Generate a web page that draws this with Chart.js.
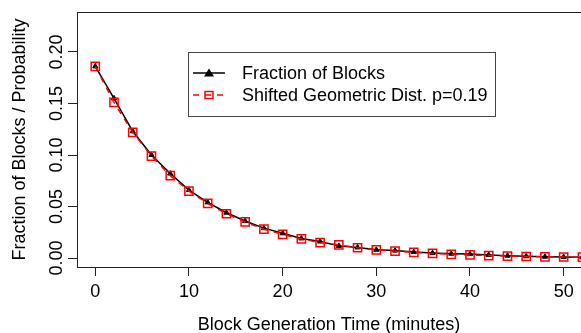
<!DOCTYPE html>
<html>
<head>
<meta charset="utf-8">
<script src="https://cdn.jsdelivr.net/npm/chart.js@4.4.1/dist/chart.umd.min.js"></script>
<style>
html,body{margin:0;padding:0;background:#fff;overflow:hidden}
#wrap{width:581px;height:333px;overflow:hidden}
canvas{display:block}
</style>
</head>
<body>
<div id="wrap"><canvas id="c" width="620" height="333"></canvas></div>
<script>
// block generation time (minutes)
const minutes = [0,2,4,6,8,10,12,14,16,18,20,22,24,26,28,30,32,34,36,38,40,42,44,46,48,50,52];
const fractionBlocks = [0.186,0.155,0.123,0.100,0.082,0.066,0.054,0.044,0.036,0.029,0.024,0.019,0.016,0.0118,0.0103,0.0080,0.0072,0.0058,0.0048,0.0042,0.0038,0.0030,0.0023,0.0017,0.0013,0.0010,0.0008];
const geometric = [0.186,0.151,0.122,0.099,0.080,0.065,0.053,0.043,0.035,0.028,0.023,0.0185,0.015,0.0128,0.0100,0.0080,0.0068,0.0055,0.0045,0.0036,0.0030,0.0024,0.0019,0.0015,0.0012,0.0010,0.0008];
const xTicks = [0,10,20,30,40,50];
const yTicks = [0,0.05,0.10,0.15,0.20];
const legendLabels = ['Fraction of Blocks','Shifted Geometric Dist. p=0.19'];

const FONT = "'Liberation Sans', Arial, Helvetica, sans-serif";
const FRAME = '#222';

const framePlugin = {
  id:'frame',
  afterDraw(chart){
    const {ctx, chartArea:a} = chart;
    ctx.save();
    ctx.strokeStyle = FRAME; ctx.lineWidth = 1;
    ctx.beginPath();
    ctx.moveTo(a.left, a.top + 0.5);
    ctx.lineTo(a.right, a.top + 0.5);
    ctx.stroke();
    ctx.restore();
  }
};

const legendPlugin = {
  id:'rlegend',
  afterDraw(chart){
    const ctx = chart.ctx;
    const bx = 188.5, by = 52.5, bw = 307, bh = 64;
    ctx.save();
    ctx.fillStyle = '#fff';
    ctx.fillRect(bx, by, bw, bh);
    ctx.strokeStyle = '#444'; ctx.lineWidth = 1;
    ctx.strokeRect(bx, by, bw, bh);
    const rows = [73, 95];
    const x0 = 193, x1 = 225, xm = 209;
    // black solid line + triangle
    ctx.strokeStyle = '#000'; ctx.lineWidth = 1.5;
    ctx.beginPath(); ctx.moveTo(x0, rows[0]); ctx.lineTo(x1, rows[0]); ctx.stroke();
    ctx.fillStyle = '#000';
    ctx.beginPath();
    ctx.moveTo(xm, rows[0]-4.5); ctx.lineTo(xm+5, rows[0]+3.5); ctx.lineTo(xm-5, rows[0]+3.5);
    ctx.closePath(); ctx.fill();
    // red dashed + open square
    ctx.strokeStyle = '#ff0000'; ctx.lineWidth = 1.5;
    ctx.setLineDash([6,6]);
    ctx.beginPath(); ctx.moveTo(x0, rows[1]); ctx.lineTo(x1, rows[1]); ctx.stroke();
    ctx.setLineDash([]);
    ctx.strokeRect(xm-4, rows[1]-3.5, 8, 7);
    ctx.fillStyle = '#000';
    ctx.font = '18px ' + FONT;
    ctx.textBaseline = 'middle';
    ctx.textAlign = 'left';
    legendLabels.forEach((t,i)=>ctx.fillText(t, 242, rows[i]+1));
    ctx.restore();
  }
};

new Chart(document.getElementById('c').getContext('2d'), {
  type:'line',
  data:{
    labels: minutes,
    datasets:[
      {
        label: legendLabels[0],
        data: minutes.map((m,i)=>({x:m, y:fractionBlocks[i]})),
        borderColor:'#000', borderWidth:1.5,
        pointStyle:'triangle', pointRadius:3, pointBackgroundColor:'#000', pointBorderColor:'#000', pointBorderWidth:1,
        tension:0, order:1, clip:false
      },
      {
        label: legendLabels[1],
        data: minutes.map((m,i)=>({x:m, y:geometric[i]})),
        borderColor:'#ff0000', borderWidth:1.5, borderDash:[6,6],
        pointStyle:'rect', pointRadius:5.8, pointBackgroundColor:'rgba(0,0,0,0)', pointBorderColor:'#ff0000', pointBorderWidth:1.5,
        tension:0, order:0, clip:false
      }
    ]
  },
  options:{
    responsive:false, animation:false, devicePixelRatio:1,
    layout:{padding:{top:12, right:39, left:0, bottom:0}},
    plugins:{legend:{display:false}, tooltip:{enabled:false}},
    scales:{
      x:{
        type:'linear', min:-1.95, max:51.85,
        afterBuildTicks(s){ s.ticks = xTicks.map(v=>({value:v})); },
        afterFit(s){ s.height = 66; },
        grid:{drawOnChartArea:false, drawTicks:true, tickLength:9, color:FRAME},
        border:{display:true, color:FRAME, width:1},
        ticks:{color:'#000', padding:5, font:{family:FONT, size:18}, maxRotation:0, autoSkip:false},
        title:{display:true, text:'Block Generation Time (minutes)', color:'#000', font:{family:FONT, size:18, lineHeight:1}, padding:{top:0, bottom:-1}}
      },
      y:{
        min:-0.0087, max:0.2388,
        afterBuildTicks(s){ s.ticks = yTicks.map(v=>({value:v})); },
        afterFit(s){ s.width = 77; },
        grid:{drawOnChartArea:false, drawTicks:true, tickLength:9, color:FRAME},
        border:{display:true, color:FRAME, width:1},
        ticks:{color:'#000', padding:-7, crossAlign:'center', minRotation:90, maxRotation:90, font:{family:FONT, size:18},
          callback:v=>v.toFixed(2)},
        title:{display:true, text:'Fraction of Blocks / Probability', color:'#000', font:{family:FONT, size:18, lineHeight:1}, padding:{top:11, bottom:0}}
      }
    }
  },
  plugins:[framePlugin, legendPlugin]
});
</script>
</body>
</html>
